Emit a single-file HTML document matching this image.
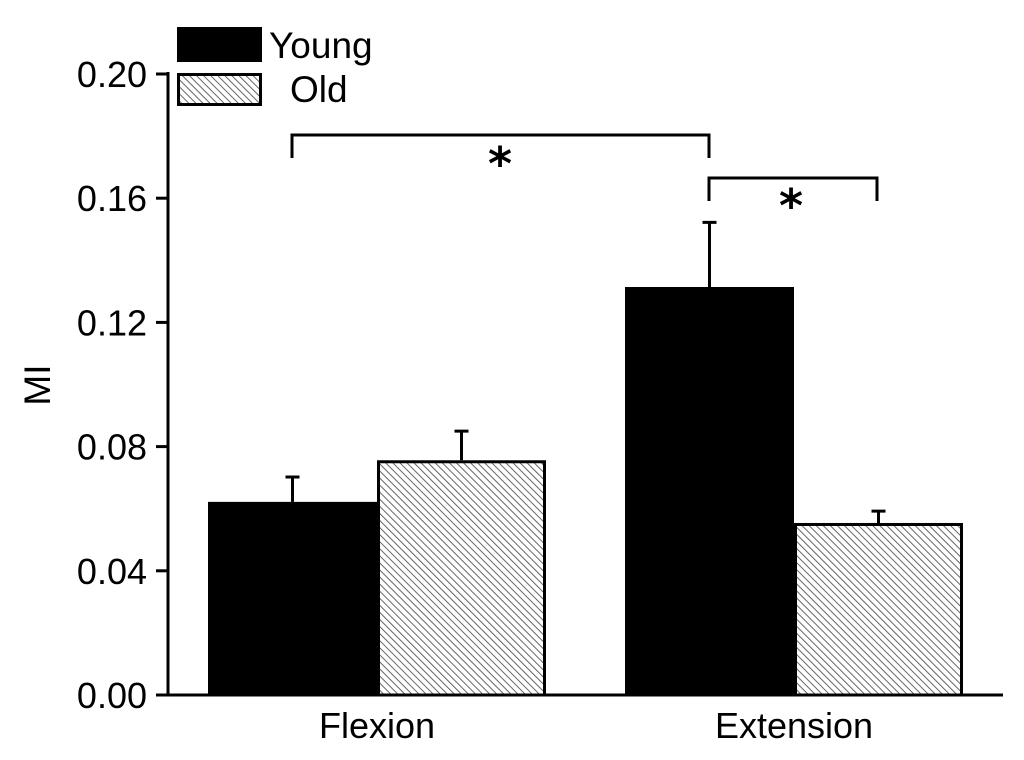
<!DOCTYPE html>
<html><head><meta charset="utf-8"><style>
html,body{margin:0;padding:0;background:#fff;}
svg{display:block;font-family:"Liberation Sans",Arial,sans-serif;}
svg text{font-size:36px;}
</style></head><body>
<svg id="chart" width="1024" height="760">
<defs>
<pattern id="hatch" patternUnits="userSpaceOnUse" width="5" height="5" patternTransform="rotate(-45)">
<rect width="5" height="5" fill="#fff"/>
<line x1="0" y1="0" x2="0" y2="5" stroke="#555" stroke-width="1.8"/>
</pattern>
</defs>
<g id="bars"></g>
<g id="axes"></g>
<rect x="177" y="27" width="85" height="35" fill="#000"/>
<text x="269" y="58" style="font-size:37px">Young</text>
<rect x="178.5" y="74.5" width="82" height="30" fill="url(#hatch)" stroke="#000" stroke-width="3"/>
<text x="290" y="102" style="font-size:37px">Old</text>
<path d="M292,158 V135 H709 V158" fill="none" stroke="#000" stroke-width="3"/>
<text x="500" y="180" text-anchor="middle" style="font-size:46px;font-family:'DejaVu Sans',sans-serif;font-weight:bold">*</text>
<path d="M709,201 V178 H877 V201" fill="none" stroke="#000" stroke-width="3"/>
<text x="791" y="222" text-anchor="middle" style="font-size:46px;font-family:'DejaVu Sans',sans-serif;font-weight:bold">*</text>
<text x="50" y="385" text-anchor="middle" transform="rotate(-90 50 385)" style="font-size:37px">MI</text>
</svg>
<script>
const categories=["Flexion","Extension"];
const youngValues=[0.0622,0.1314];
const youngErrors=[0.0080,0.0208];
const oldValues=[0.0756,0.0554];
const oldErrors=[0.0094,0.0038];
const yTicks=[0,0.04,0.08,0.12,0.16,0.20];
const yTickLabels=["0.00","0.04","0.08","0.12","0.16","0.20"];

const NS="http://www.w3.org/2000/svg";
const y0=695,yTop=74,vmax=0.20;
function yScale(v){return y0-(v/vmax)*(y0-yTop);}
const groupLeft=[208,625],barW=169;
function xYoung(i){return groupLeft[i];}
function xOld(i){return groupLeft[i]+barW;}
function mk(tag,attrs,parent){const e=document.createElementNS(NS,tag);for(const k in attrs)e.setAttribute(k,attrs[k]);parent.appendChild(e);return e;}
const bars=document.getElementById('bars'),axes=document.getElementById('axes');

categories.forEach((c,i)=>{
  [[xYoung(i),youngValues[i],youngErrors[i],'young'],[xOld(i),oldValues[i],oldErrors[i],'old']].forEach(([x,v,e,s])=>{
    const cx=x+barW/2, yt=yScale(v+e);
    const el=mk('path',{d:`M${cx},${yScale(v)} V${yt} M${cx-7},${yt} H${cx+7}`,stroke:'#000','stroke-width':3,fill:'none'},bars);
    
    
  });
  const by=yScale(youngValues[i]);
  const b1=mk('rect',{x:xYoung(i),y:by,width:barW,height:y0-by,fill:'#000'},bars);
  
  
  const oy=yScale(oldValues[i]);
  const b2=mk('rect',{x:xOld(i)+1.5,y:oy+1.5,width:barW-3,height:y0-oy-1.5,fill:'url(#hatch)',stroke:'#000','stroke-width':3},bars);
  
  
  const t=mk('text',{x:groupLeft[i]+barW,y:738,'text-anchor':'middle',style:'font-size:36px'},axes);
  t.textContent=c;
  
  
});
const ya=mk('line',{x1:168,y1:yTop-2,x2:168,y2:y0+1.5,stroke:'#000','stroke-width':3},axes);


const xa=mk('line',{x1:156,y1:y0,x2:1003,y2:y0,stroke:'#000','stroke-width':3},axes);


yTicks.forEach((v,i)=>{
  const y=yScale(v);
  const tk=mk('line',{x1:156,y1:y,x2:168,y2:y,stroke:'#000','stroke-width':3},axes);
  
  
  const t=mk('text',{x:147,y:y+13,'text-anchor':'end',style:'font-size:36px'},axes);
  t.textContent=yTickLabels[i];
  
  
});
</script>
</body></html>
